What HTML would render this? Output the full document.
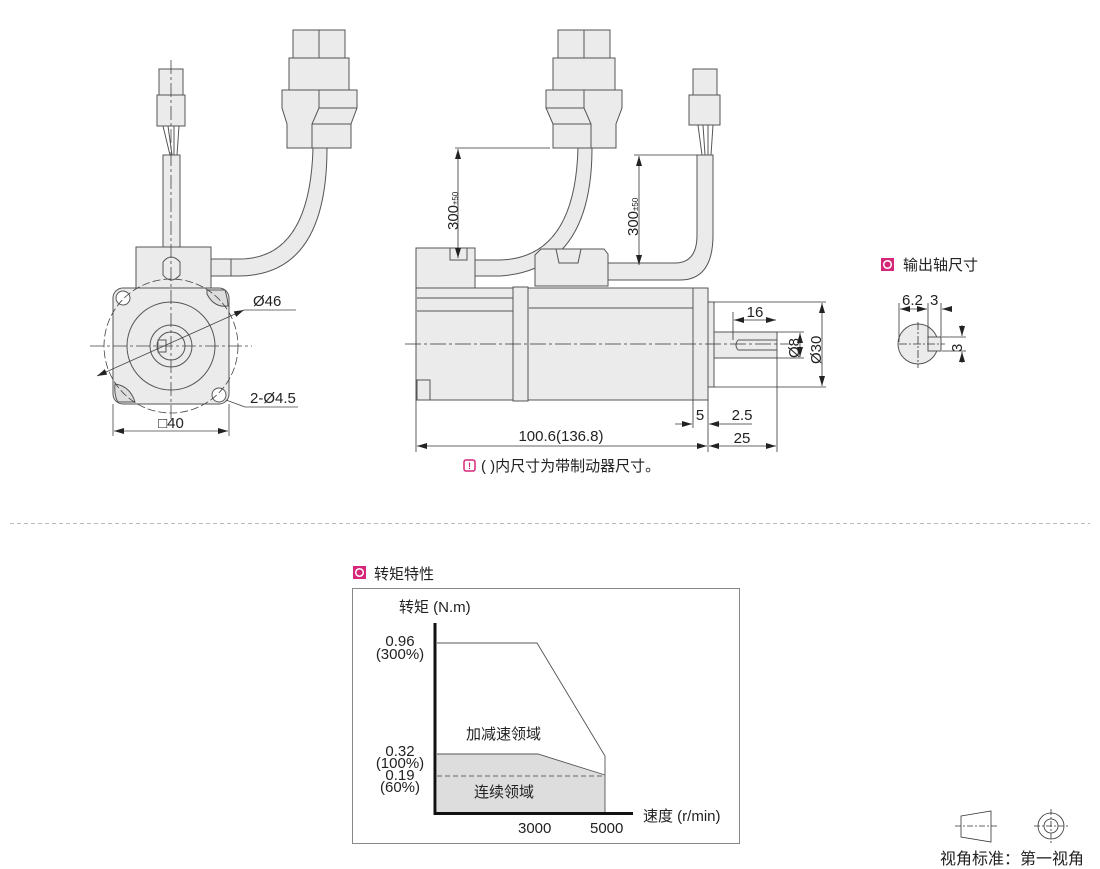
<!DOCTYPE html>
<html><head><meta charset="utf-8"><style>
html,body{margin:0;padding:0;background:#fff;}
svg{display:block;}
text{font-family:"Liberation Sans","Noto Sans CJK SC",sans-serif;fill:#222;}
</style></head><body>
<svg width="1100" height="869" viewBox="0 0 1100 869" xmlns="http://www.w3.org/2000/svg">
<defs>
<marker id="a" viewBox="0 0 10 6" refX="10" refY="3" markerWidth="10" markerHeight="6" orient="auto-start-reverse" markerUnits="userSpaceOnUse"><path d="M0,0 L10,3 L0,6 z" fill="#222"/></marker>
</defs>
<g fill="#ebebeb" stroke="#555" stroke-width="1">
<rect x="159" y="69" width="24" height="26"/>
<rect x="157" y="95" width="28" height="31"/>
<path d="M163,126 L170,155 M168,126 L172,155 M174,126 L174,155 M179,126 L177,155" fill="none"/>
<rect x="163" y="155" width="17" height="120"/>
<rect x="293" y="30" width="52" height="28"/>
<line x1="319" y1="30" x2="319" y2="90"/>
<rect x="289" y="58" width="60" height="32"/>
<path d="M282,90 L357,90 L357,108 L351,124 L351,148 L287,148 L287,124 L282,108 Z"/>
<path d="M319,90 L319,108 L312,124 L312,148 M319,108 L357,108 M312,124 L351,124" fill="none"/>
<path d="M313,148 Q310,260 238,259 L230,259 L230,276 L238,276 Q327,276 327,148 Z"/>
<rect x="136" y="247" width="75" height="41"/>
<path d="M163,275 L163,262 Q171,252 180,262 L180,275 Q171,285 163,275 Z"/>
<rect x="211" y="259" width="20" height="17"/>
<rect x="113" y="288" width="116" height="116" rx="10"/>
<circle cx="171" cy="346" r="44" fill="none"/>
<circle cx="171" cy="346" r="21"/>
<circle cx="171" cy="346" r="14"/>
<rect x="158" y="340" width="8" height="12"/>
<circle cx="123" cy="298" r="7" fill="#fff"/>
<circle cx="219" cy="395" r="7" fill="#fff"/>
<path d="M207,290 L225,290 Q228,300 228,306 Q214,308 207,294 Z" fill="#ddd"/>
<path d="M115,384 Q130,386 135,402 L118,402 Q114,396 115,384 Z" fill="#ddd"/>
</g>
<g stroke="#444" stroke-width="0.8" fill="none">
<circle cx="171" cy="346" r="67" stroke-dasharray="8,3"/>
<line x1="90" y1="346" x2="252" y2="346" stroke-dasharray="14,3,3,3"/>
<line x1="171" y1="60" x2="171" y2="420" stroke-dasharray="14,3,3,3"/>
<line x1="113" y1="404" x2="113" y2="436"/>
<line x1="229" y1="404" x2="229" y2="436"/>
<line x1="114" y1="431" x2="228" y2="431" marker-start="url(#a)" marker-end="url(#a)"/>
<line x1="97" y1="376" x2="244" y2="310" marker-start="url(#a)" marker-end="url(#a)"/>
<line x1="244" y1="310" x2="296" y2="310"/>
<line x1="226" y1="400" x2="245" y2="407"/>
<line x1="245" y1="407" x2="298" y2="407"/>
</g>
<text x="253" y="306" font-size="15">Ø46</text>
<text x="250" y="403" font-size="15">2-Ø4.5</text>
<text x="171" y="428" font-size="15" text-anchor="middle">□40</text>

<g fill="#ebebeb" stroke="#555" stroke-width="1">
<rect x="558" y="30" width="52" height="28"/>
<line x1="584" y1="30" x2="584" y2="90"/>
<rect x="553" y="58" width="62" height="32"/>
<path d="M546,90 L622,90 L622,108 L616,124 L616,148 L553,148 L553,124 L546,108 Z"/>
<path d="M584,90 L584,108 L591,124 L591,148 M546,108 L584,108 M553,124 L591,124" fill="none"/>
<path d="M578,148 Q575,258 500,260 L475,260 L475,276 L500,276 Q592,270 592,148 Z"/>
<rect x="693" y="69" width="24" height="26"/>
<rect x="689" y="95" width="31" height="30"/>
<path d="M698,125 L702,155 M703,125 L705,155 M708,125 L708,155 M713,125 L711,155" fill="none"/>
<path d="M697,155 L713,155 L713,235 Q713,280 680,280 L608,280 L608,263 L675,263 Q697,263 697,235 Z"/>
<rect x="416" y="248" width="59" height="40"/>
<rect x="450" y="248" width="17" height="12"/>
<path d="M541,249 L604,249 L608,254 L608,286 L535,286 L535,255 Z"/>
<path d="M556,249 L559,263 L578,263 L581,249" fill="none"/>
<rect x="416" y="288" width="97" height="112"/>
<line x1="417" y1="298" x2="513" y2="298"/>
<line x1="417" y1="311" x2="513" y2="311"/>
<rect x="417" y="380" width="13" height="20"/>
<rect x="513" y="287" width="15" height="114"/>
<rect x="528" y="288" width="165" height="112"/>
<line x1="529" y1="308" x2="693" y2="308"/>
<rect x="693" y="288" width="15" height="112"/>
<rect x="708" y="302" width="6" height="85"/>
<rect x="714" y="332" width="63" height="26"/>
<path d="M738,340 L777,340 M738,350 L777,350 M738,340 Q734,345 738,350" fill="none"/>
</g>
<g stroke="#333" stroke-width="0.8" fill="none">
<line x1="405" y1="344" x2="790" y2="344" stroke-dasharray="16,3,3,3"/>
<line x1="455" y1="148" x2="550" y2="148"/>
<line x1="458" y1="149" x2="458" y2="258" marker-start="url(#a)" marker-end="url(#a)"/>
<line x1="634" y1="155" x2="697" y2="155"/>
<line x1="639" y1="156" x2="639" y2="265" marker-start="url(#a)" marker-end="url(#a)"/>
<line x1="416" y1="400" x2="416" y2="452"/>
<line x1="708" y1="400" x2="708" y2="452"/>
<line x1="777" y1="358" x2="777" y2="452"/>
<line x1="693" y1="400" x2="693" y2="428"/>
<line x1="417" y1="446" x2="707" y2="446" marker-start="url(#a)" marker-end="url(#a)"/>
<line x1="709" y1="446" x2="776" y2="446" marker-start="url(#a)" marker-end="url(#a)"/>
<line x1="675" y1="424" x2="692" y2="424" marker-end="url(#a)"/>
<line x1="728" y1="424" x2="709" y2="424" marker-end="url(#a)"/>
<line x1="728" y1="424" x2="752" y2="424"/>
<line x1="733" y1="312" x2="733" y2="340"/>
<line x1="734" y1="320" x2="776" y2="320" marker-start="url(#a)" marker-end="url(#a)"/>
<line x1="714" y1="302" x2="826" y2="302"/>
<line x1="714" y1="387" x2="826" y2="387"/>
<line x1="777" y1="332" x2="804" y2="332"/>
<line x1="777" y1="358" x2="804" y2="358"/>
<line x1="800" y1="333" x2="800" y2="357" marker-start="url(#a)" marker-end="url(#a)"/>
<line x1="822" y1="303" x2="822" y2="386" marker-start="url(#a)" marker-end="url(#a)"/>
</g>
<text transform="translate(458,230) rotate(-90)" font-size="15">300<tspan font-size="8">±50</tspan></text>
<text transform="translate(638,236) rotate(-90)" font-size="15">300<tspan font-size="8">±50</tspan></text>
<text x="561" y="441" font-size="15" text-anchor="middle">100.6(136.8)</text>
<text x="742" y="443" font-size="15" text-anchor="middle">25</text>
<text x="700" y="420" font-size="15" text-anchor="middle">5</text>
<text x="742" y="420" font-size="15" text-anchor="middle">2.5</text>
<text x="755" y="317" font-size="15" text-anchor="middle">16</text>
<text transform="translate(799,358) rotate(-90)" font-size="15">Ø8</text>
<text transform="translate(821,364) rotate(-90)" font-size="15">Ø30</text>
<rect x="464" y="460" width="11" height="11" rx="2" fill="none" stroke="#d6267a" stroke-width="1.5"/>
<text x="469.5" y="469" font-size="9" text-anchor="middle" style="fill:#d6267a" font-weight="bold">!</text>
<text x="481" y="471" font-size="15">( )内尺寸为带制动器尺寸。</text>

<rect x="881" y="258" width="13" height="13" fill="#d6267a"/>
<circle cx="887.5" cy="264.5" r="3.8" fill="none" stroke="#fff" stroke-width="1.5"/>
<text x="903" y="270" font-size="15">输出轴尺寸</text>
<circle cx="918" cy="344" r="20" fill="#ebebeb" stroke="#555"/>
<rect x="928" y="337" width="13" height="14" fill="#ebebeb" stroke="#555"/>
<g stroke="#333" stroke-width="0.8" fill="none">
<line x1="899" y1="344" x2="945" y2="344" stroke-dasharray="8,2,2,2"/>
<line x1="918" y1="322" x2="918" y2="368" stroke-dasharray="8,2,2,2"/>
<line x1="899" y1="303" x2="899" y2="342"/>
<line x1="928" y1="303" x2="928" y2="338"/>
<line x1="941" y1="303" x2="941" y2="338"/>
<line x1="900" y1="309" x2="927" y2="309" marker-start="url(#a)" marker-end="url(#a)"/>
<line x1="950" y1="309" x2="942" y2="309" marker-end="url(#a)"/>
<line x1="942" y1="337" x2="966" y2="337"/>
<line x1="942" y1="351" x2="966" y2="351"/>
<line x1="962" y1="325" x2="962" y2="336" marker-end="url(#a)"/>
<line x1="962" y1="363" x2="962" y2="352" marker-end="url(#a)"/>
</g>
<text x="902" y="305" font-size="15">6.2</text>
<text x="930" y="305" font-size="15">3</text>
<text transform="translate(962,352) rotate(-90)" font-size="15">3</text>

<line x1="10" y1="523.5" x2="1090" y2="523.5" stroke="#bbb" stroke-dasharray="4,3"/>

<rect x="353" y="566" width="13" height="13" fill="#d6267a"/>
<circle cx="359.5" cy="572.5" r="3.8" fill="none" stroke="#fff" stroke-width="1.5"/>
<text x="374" y="579" font-size="15">转矩特性</text>
<rect x="352.5" y="588.5" width="387" height="255" fill="none" stroke="#888"/>
<text x="399" y="612" font-size="15">转矩 (N.m)</text>
<path d="M437,754 L538,754 L605,775 L605,813 L437,813 Z" fill="#ddd"/>
<polyline points="437,643 537,643 605,756 605,813" fill="none" stroke="#555" stroke-width="0.9"/>
<polyline points="437,754 538,754 605,775" fill="none" stroke="#555" stroke-width="0.9"/>
<line x1="437" y1="776" x2="605" y2="776" stroke="#666" stroke-dasharray="5,3"/>
<line x1="435" y1="623" x2="435" y2="815" stroke="#111" stroke-width="3"/>
<line x1="434" y1="813.5" x2="633" y2="813.5" stroke="#111" stroke-width="3"/>
<g font-size="15" text-anchor="middle">
<text x="400" y="646">0.96</text>
<text x="400" y="659">(300%)</text>
<text x="400" y="756">0.32</text>
<text x="400" y="768">(100%)</text>
<text x="400" y="780">0.19</text>
<text x="400" y="792">(60%)</text>
</g>
<text x="466" y="739" font-size="15">加减速领域</text>
<text x="474" y="797" font-size="15">连续领域</text>
<text x="518" y="833" font-size="15">3000</text>
<text x="590" y="833" font-size="15">5000</text>
<text x="643" y="821" font-size="15">速度 (r/min)</text>

<g stroke="#333" stroke-width="0.8" fill="none">
<path d="M961,816 L991,811 L991,842 L961,837 Z"/>
<line x1="955" y1="826" x2="997" y2="826" stroke-dasharray="6,2,2,2"/>
<circle cx="1051" cy="826" r="13"/>
<circle cx="1051" cy="826" r="7"/>
<line x1="1034" y1="826" x2="1068" y2="826" stroke-dasharray="6,2,2,2"/>
<line x1="1051" y1="809" x2="1051" y2="843" stroke-dasharray="6,2,2,2"/>
</g>
<text x="940" y="864" font-size="16">视角标准：第一视角</text>
</svg>
</body></html>
